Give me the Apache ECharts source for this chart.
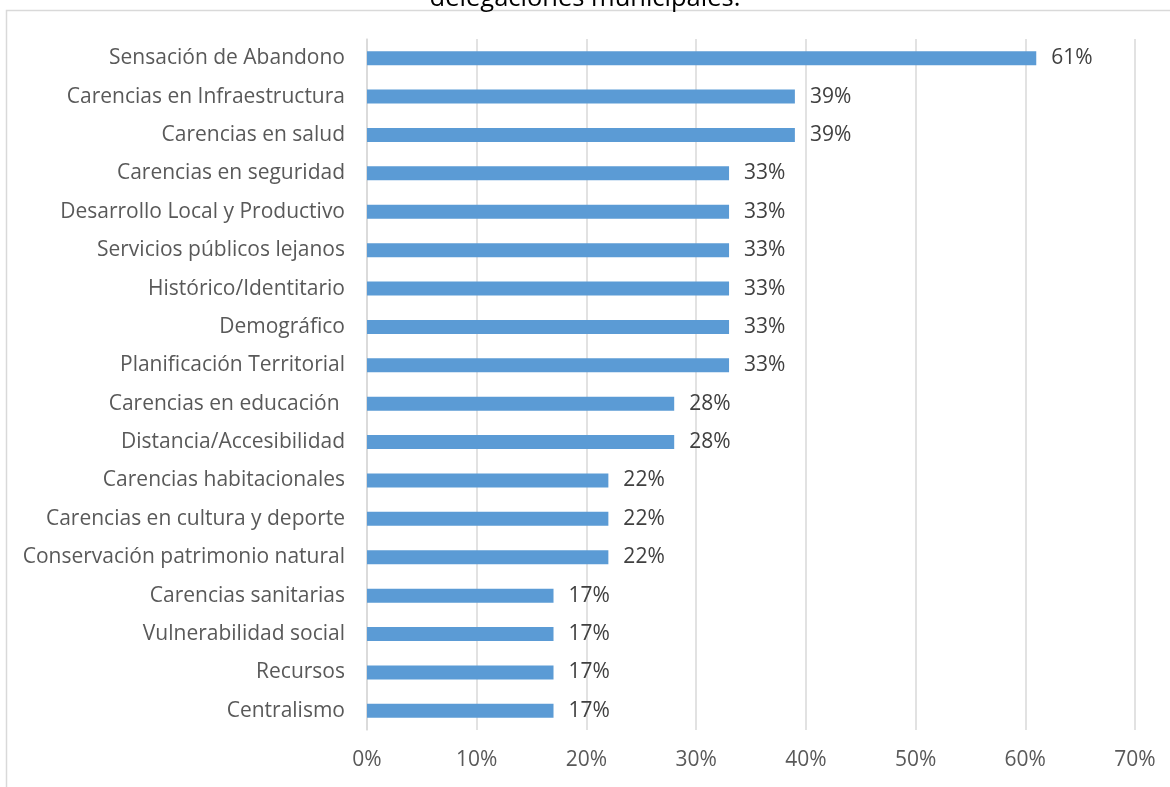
<!DOCTYPE html>
<html><head><meta charset="utf-8">
<script src="https://cdn.jsdelivr.net/npm/echarts@6/dist/echarts.min.js"></script>
<style>html,body{margin:0;padding:0;background:#fff}#c{width:1170px;height:787px}</style>
</head><body><div id="c"></div>
<script>
const titleText = "delegaciones municipales.";
const categories = [
  "Sensación de Abandono",
  "Carencias en Infraestructura",
  "Carencias en salud",
  "Carencias en seguridad",
  "Desarrollo Local y Productivo",
  "Servicios públicos lejanos",
  "Histórico/Identitario",
  "Demográfico",
  "Planificación Territorial",
  "Carencias en educación ",
  "Distancia/Accesibilidad",
  "Carencias habitacionales",
  "Carencias en cultura y deporte",
  "Conservación patrimonio natural",
  "Carencias sanitarias",
  "Vulnerabilidad social",
  "Recursos",
  "Centralismo"
];
const values = [61, 39, 39, 33, 33, 33, 33, 33, 33, 28, 28, 22, 22, 22, 17, 17, 17, 17];
const xTicks = [0, 10, 20, 30, 40, 50, 60, 70];

const FONT = "'Open Sans', sans-serif";
const chart = echarts.init(document.getElementById('c'));
chart.setOption({
  animation: false,
  backgroundColor: '#fff',
  title: {
    text: titleText, left: 'center', top: -19,
    textStyle: {fontFamily: FONT, fontSize: 25.5, fontWeight: 'normal', color: '#000'}
  },
  graphic: [{
    type: 'rect', shape: {x: 6.5, y: 10.5, width: 1200, height: 800},
    style: {fill: 'none', stroke: '#D9D9D9', lineWidth: 1.5}, silent: true, z: -1
  }],
  grid: {left: 367, right: 35, top: 39, bottom: 57, containLabel: false},
  xAxis: {
    type: 'value', min: xTicks[0], max: xTicks[xTicks.length - 1], interval: 10,
    axisLine: {show: false}, axisTick: {show: false},
    splitLine: {show: true, lineStyle: {color: '#D9D9D9', width: 1.5}},
    axisLabel: {formatter: v => v + '%', color: '#595959', fontFamily: FONT, fontSize: 21, margin: 20}
  },
  yAxis: {
    type: 'category', data: categories, inverse: true,
    axisLine: {show: true, lineStyle: {color: '#D9D9D9', width: 1.5}}, axisTick: {show: false},
    axisLabel: {color: '#595959', fontFamily: FONT, fontSize: 21, margin: 22}
  },
  series: [{
    type: 'bar', data: values, barWidth: 14,
    itemStyle: {color: '#5B9BD5'},
    label: {show: true, position: 'right', distance: 15, formatter: p => p.value + '%',
      color: '#404040', fontFamily: FONT, fontSize: 21}
  }]
});
</script></body></html>
